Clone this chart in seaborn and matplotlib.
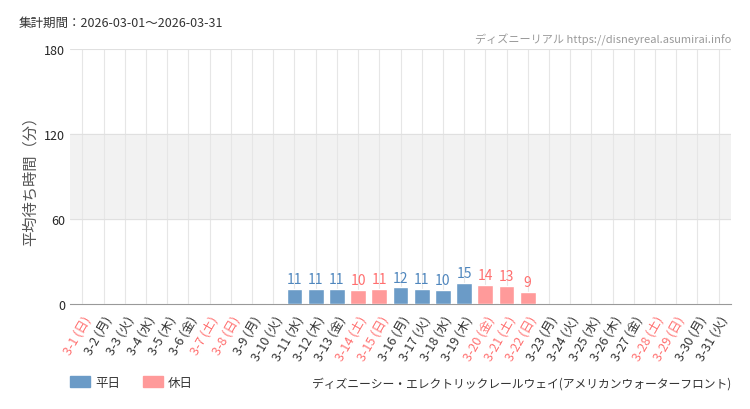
import matplotlib
matplotlib.use("Agg")
import matplotlib.pyplot as plt
import seaborn as sns
import pandas as pd

days = [f"3-{d}" for d in range(1, 32)]
weekdays = ["日", "月", "火", "水", "木", "金", "土"]
values = [0, 0, 0, 0, 0, 0, 0, 0, 0, 0,
          11, 11, 11, 10, 11, 12, 11, 10, 15, 14, 13, 9,
          0, 0, 0, 0, 0, 0, 0, 0, 0]
holidays = ["3-1", "3-7", "3-8", "3-14", "3-15", "3-20", "3-21", "3-22", "3-28", "3-29"]

labels = [f"{d} ({weekdays[i % 7]})" for i, d in enumerate(days)]
df = pd.DataFrame({"label": labels, "value": values,
                   "type": ["休日" if d in holidays else "平日" for d in days]})

sns.set_style("white")
plt.rcParams["font.family"] = ["Noto Sans CJK JP", "DejaVu Sans"]

blue, pink = "#6b9bc7", "#ff9a9a"
fig, ax = plt.subplots(figsize=(7.5, 4.1), dpi=100)
fig.subplots_adjust(left=0.093, right=0.975, top=0.878, bottom=0.255)

ax.axhspan(60, 120, color="#f2f2f2", zorder=0)
sns.barplot(data=df, x="label", y="value", hue="type",
            palette={"平日": blue, "休日": pink}, dodge=False, saturation=1,
            width=0.75, ax=ax, zorder=3, legend=False)

for i, v in enumerate(values):
    if v > 0:
        c = "#ff6f6f" if days[i] in holidays else "#4f86bd"
        ax.text(i, v + 2, str(v), ha="center", va="bottom", color=c,
                fontsize=10, zorder=4)

ax.set_ylim(0, 180)
ax.set_yticks([0, 60, 120, 180])
ax.tick_params(axis="y", labelsize=9, length=0)
ax.set_xlim(-0.6, 30.6)
ax.set_xticks(range(len(days)))
ax.set_xticklabels(labels, rotation=60, ha="right", rotation_mode="anchor", fontsize=9)
for t, d in zip(ax.get_xticklabels(), days):
    t.set_color("#ff7070" if d in holidays else "#333333")
ax.tick_params(axis="x", length=3, color="#999999")
for x in range(len(days)):
    ax.axvline(x, color="#e6e6e6", lw=0.8, zorder=1)
for y in [60, 120, 180]:
    ax.axhline(y, color="#e0e0e0", lw=0.8, zorder=1)
for s in ["top", "right", "left"]:
    ax.spines[s].set_visible(False)
ax.spines["bottom"].set_color("#999999")
ax.set_xlabel("")
ax.set_ylabel("平均待ち時間（分）", fontsize=11, color="#555555")

fig.text(0.025, 0.935, "集計期間：2026-03-01～2026-03-31", fontsize=9, color="#333333")
fig.text(0.975, 0.895, "ディズニーリアル https://disneyreal.asumirai.info",
         fontsize=8, color="#999999", ha="right")
fig.text(0.975, 0.055, "ディズニーシー・エレクトリックレールウェイ(アメリカンウォーターフロント)",
         fontsize=8.5, color="#333333", ha="right")
fig.patches.append(plt.Rectangle((0.093, 0.053), 0.027, 0.028, color=blue, transform=fig.transFigure))
fig.text(0.127, 0.055, "平日", fontsize=9, color="#333333")
fig.patches.append(plt.Rectangle((0.19, 0.053), 0.027, 0.028, color=pink, transform=fig.transFigure))
fig.text(0.224, 0.055, "休日", fontsize=9, color="#333333")

fig.savefig("out.png")
